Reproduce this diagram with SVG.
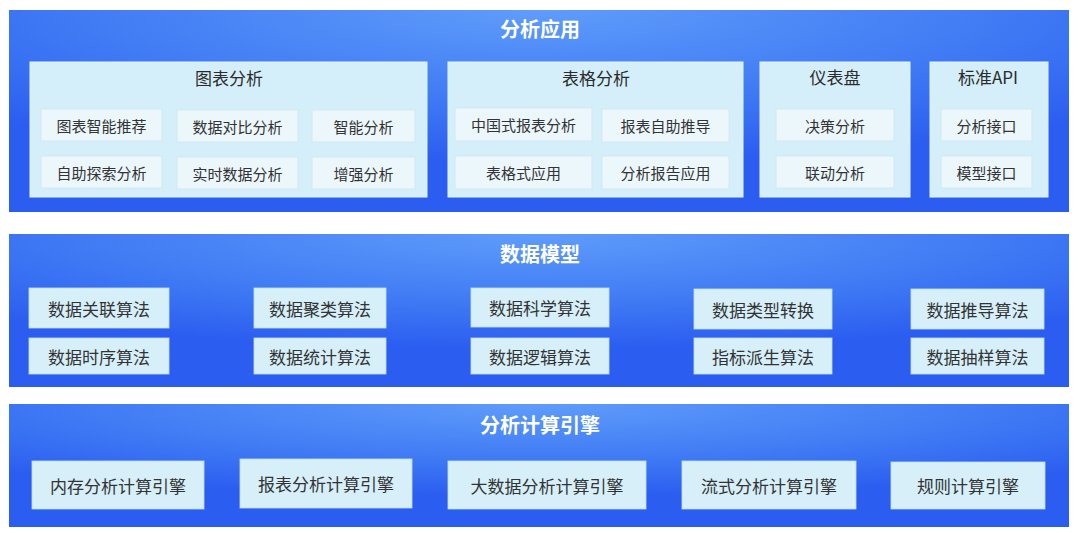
<svg xmlns="http://www.w3.org/2000/svg" width="1080" height="533" viewBox="0 0 1080 533">
<defs>
<radialGradient id="bandGrad" cx="50%" cy="0%" r="75%" fx="50%" fy="0%">
<stop offset="0" stop-color="#5f9cfa"/>
<stop offset="0.6" stop-color="#3f7af4"/>
<stop offset="1" stop-color="#2b5df0"/>
</radialGradient>
</defs>
<style>
.band{fill:url(#bandGrad);}
.panel{fill:#d4eff9;stroke:#e6f6fc;stroke-width:1;}
.item1{fill:#ecf7fc;stroke:#cfe6f2;stroke-width:0.8;}
.item2{fill:#d6eff9;stroke:#c4e2f2;stroke-width:0.8;}
.title{font-family:"Noto Sans CJK SC","Liberation Sans",sans-serif;font-size:20px;font-weight:bold;fill:#ffffff;text-anchor:middle;dominant-baseline:central;}
.ptitle{font-family:"Noto Sans CJK SC","Liberation Sans",sans-serif;font-size:17px;fill:#2b2b2b;text-anchor:middle;dominant-baseline:central;}
.t1{font-family:"Noto Sans CJK SC","Liberation Sans",sans-serif;font-size:15px;fill:#333333;text-anchor:middle;dominant-baseline:central;}
.t2{font-family:"Noto Sans CJK SC","Liberation Sans",sans-serif;font-size:17px;fill:#333333;text-anchor:middle;dominant-baseline:central;}
</style>
<rect width="1080" height="533" fill="#ffffff"/>

<g id="layer-app">
<rect class="band" x="9" y="10" width="1060" height="202"/>
<text class="title" x="540" y="28">分析应用</text>
</g>
<g id="panel-chart">
<rect class="panel" x="30" y="62" width="397" height="135"/>
<text class="ptitle" x="229" y="77">图表分析</text>
<g id="n-tbznjt"><rect class="item1" x="41" y="109" width="121" height="32"/><text class="t1" x="101.5" y="125">图表智能推荐</text></g>
<g id="n-sjdbfx"><rect class="item1" x="177" y="110" width="121" height="32"/><text class="t1" x="237.5" y="126">数据对比分析</text></g>
<g id="n-znfx"><rect class="item1" x="312" y="110" width="103" height="32"/><text class="t1" x="363.5" y="126">智能分析</text></g>
<g id="n-zztsfx"><rect class="item1" x="41" y="156" width="121" height="32"/><text class="t1" x="101.5" y="172">自助探索分析</text></g>
<g id="n-sssjfx"><rect class="item1" x="177" y="157" width="121" height="32"/><text class="t1" x="237.5" y="173">实时数据分析</text></g>
<g id="n-zqfx"><rect class="item1" x="312" y="157" width="103" height="32"/><text class="t1" x="363.5" y="173">增强分析</text></g>
</g>
<g id="panel-table">
<rect class="panel" x="448" y="62" width="295" height="135"/>
<text class="ptitle" x="596" y="77">表格分析</text>
<g id="n-zgsbbfx"><rect class="item1" x="455" y="108" width="137" height="33"/><text class="t1" x="523.5" y="124.5">中国式报表分析</text></g>
<g id="n-bbzztd"><rect class="item1" x="602" y="109" width="127" height="33"/><text class="t1" x="665.5" y="125.5">报表自助推导</text></g>
<g id="n-bgsyy"><rect class="item1" x="455" y="156" width="137" height="33"/><text class="t1" x="523.5" y="172.5">表格式应用</text></g>
<g id="n-fxbgyy"><rect class="item1" x="602" y="156" width="127" height="33"/><text class="t1" x="665.5" y="172.5">分析报告应用</text></g>
</g>
<g id="panel-dash">
<rect class="panel" x="760" y="62" width="150" height="135"/>
<text class="ptitle" x="835" y="76">仪表盘</text>
<g id="n-jcfx"><rect class="item1" x="776" y="109" width="118" height="32"/><text class="t1" x="835" y="125">决策分析</text></g>
<g id="n-ldfx"><rect class="item1" x="776" y="156" width="118" height="32"/><text class="t1" x="835" y="172">联动分析</text></g>
</g>
<g id="panel-api">
<rect class="panel" x="930" y="62" width="118" height="135"/>
<text class="ptitle" x="988" y="76">标准API</text>
<g id="n-fxjk"><rect class="item1" x="941" y="109" width="91" height="32"/><text class="t1" x="986.5" y="125">分析接口</text></g>
<g id="n-mxjk"><rect class="item1" x="941" y="156" width="91" height="32"/><text class="t1" x="986.5" y="172">模型接口</text></g>
</g>

<g id="layer-model">
<rect class="band" x="9" y="234" width="1060" height="153"/>
<text class="title" x="540" y="253">数据模型</text>
<g id="n-sjglsf"><rect class="item2" x="29" y="288" width="140" height="40"/><text class="t2" x="99" y="308">数据关联算法</text></g>
<g id="n-sjsxsf"><rect class="item2" x="29" y="338" width="140" height="36"/><text class="t2" x="99" y="356">数据时序算法</text></g>
<g id="n-sjjlsf"><rect class="item2" x="254" y="288" width="132" height="40"/><text class="t2" x="320" y="308">数据聚类算法</text></g>
<g id="n-sjtjsf"><rect class="item2" x="254" y="338" width="132" height="36"/><text class="t2" x="320" y="356">数据统计算法</text></g>
<g id="n-sjkxsf"><rect class="item2" x="471" y="288" width="138" height="39"/><text class="t2" x="540" y="307.5">数据科学算法</text></g>
<g id="n-sjljsf"><rect class="item2" x="471" y="338" width="138" height="36"/><text class="t2" x="540" y="356">数据逻辑算法</text></g>
<g id="n-sjlxzh"><rect class="item2" x="694" y="289" width="138" height="40"/><text class="t2" x="763" y="309">数据类型转换</text></g>
<g id="n-zbpssf"><rect class="item2" x="694" y="338" width="138" height="36"/><text class="t2" x="763" y="356">指标派生算法</text></g>
<g id="n-sjtdsf"><rect class="item2" x="911" y="289" width="133" height="40"/><text class="t2" x="977.5" y="309">数据推导算法</text></g>
<g id="n-sjcysf"><rect class="item2" x="911" y="338" width="133" height="36"/><text class="t2" x="977.5" y="356">数据抽样算法</text></g>
</g>

<g id="layer-engine">
<rect class="band" x="9" y="404" width="1060" height="123"/>
<text class="title" x="540" y="424">分析计算引擎</text>
<g id="n-ncfx"><rect class="item2" x="32" y="461" width="172" height="48"/><text class="t2" x="118" y="485">内存分析计算引擎</text></g>
<g id="n-bbfx"><rect class="item2" x="240" y="459" width="172" height="49"/><text class="t2" x="326" y="483.5">报表分析计算引擎</text></g>
<g id="n-dsjfx"><rect class="item2" x="448" y="461" width="198" height="48"/><text class="t2" x="547" y="485">大数据分析计算引擎</text></g>
<g id="n-lsfx"><rect class="item2" x="682" y="461" width="174" height="48"/><text class="t2" x="769" y="485">流式分析计算引擎</text></g>
<g id="n-gzjs"><rect class="item2" x="891" y="462" width="154" height="47"/><text class="t2" x="968" y="485.5">规则计算引擎</text></g>
</g>

<g id="connectors"></g>
</svg>
